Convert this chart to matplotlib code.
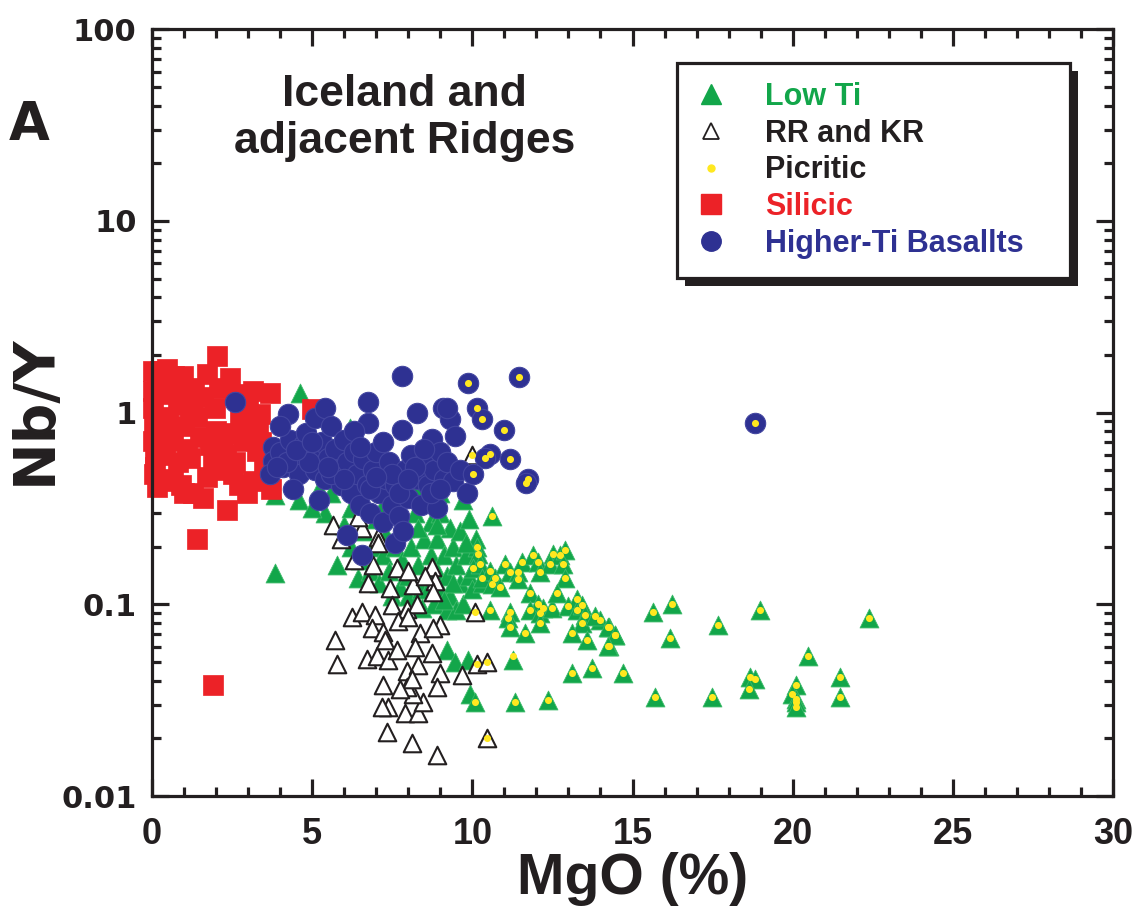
import matplotlib
matplotlib.use("Agg")
import matplotlib.pyplot as plt
from matplotlib.lines import Line2D
from matplotlib.patches import Rectangle
from matplotlib.ticker import LogLocator, MultipleLocator, FixedLocator, FixedFormatter

INK = "#231F20"
GREEN = "#12A64A"
RED = "#EC2227"
BLUE = "#2E3192"
YELLOW = "#FFE81F"

# Silicic rocks
silicic_mgo = [0.03, 0.47, 0.97, 1.72, 2.03, 2.44, 3.15, 3.68, 0.03, 1.19, 1.97, 3.37,
               2.75, 0.03, 0.66, 2.22, 2.84, 3.28, 1.19, 1.90, 0.05, 0.66, 1.72, 2.53,
               3.15, 0.16, 1.28, 1.60, 2.97, 2.34, 1.40, 1.90, 5.00, 0.30, 0.50, 0.80,
               1.00, 0.20, 0.40, 0.80, 1.10, 1.50, 1.40, 1.60, 2.00, 2.30, 2.60, 2.90,
               3.30, 3.50, 3.60, 3.40, 2.10, 2.60, 1.30, 0.15, 0.10, 0.60, 0.90, 1.00,
               2.00, 2.70, 3.70, 3.00, 0.70, 0.25, 0.02, 0.35, 1.80, 2.40, 0.05, 0.45,
               0.85, 1.25, 0.10, 0.55]
silicic_nby = [1.65, 1.69, 1.56, 1.60, 1.98, 1.52, 1.30, 1.26, 1.06, 1.02, 1.06, 0.99,
               0.91, 0.71, 0.71, 0.71, 0.71, 0.63, 0.58, 0.56, 0.48, 0.44, 0.46, 0.48,
               0.44, 0.41, 0.38, 0.36, 0.38, 0.31, 0.22, 0.038, 1.05, 1.25, 0.95, 1.10,
               0.85, 0.80, 0.60, 0.55, 0.65, 0.75, 0.95, 1.20, 0.80, 0.60, 0.55, 0.85,
               0.82, 0.55, 0.45, 0.70, 1.35, 1.25, 1.35, 1.40, 0.60, 0.45, 0.42, 0.38,
               0.50, 0.42, 0.40, 1.10, 1.55, 1.65, 1.30, 0.90, 0.68, 0.78, 0.88, 1.45,
               1.30, 1.10, 0.52, 0.75]

# Higher-Ti basalts
high_ti_mgo = [3.78, 3.78, 3.68, 4.00, 4.10, 4.25, 4.30, 4.50, 4.60, 4.70, 4.80, 5.00,
               5.10, 5.10, 5.30, 5.40, 5.40, 5.50, 5.60, 5.70, 5.80, 5.90, 6.00, 6.10,
               6.20, 6.30, 6.40, 6.50, 6.60, 6.70, 6.74, 6.74, 6.80, 6.90, 7.00, 7.10,
               7.20, 7.30, 7.40, 7.50, 7.59, 7.60, 7.70, 7.80, 7.80, 7.84, 7.90, 8.00,
               8.10, 8.27, 8.30, 8.40, 8.50, 8.60, 8.74, 8.80, 8.90, 9.00, 9.08, 9.10,
               9.20, 9.30, 9.40, 9.46, 9.83, 6.09, 6.56, 2.59, 4.00, 5.20, 4.40, 6.30,
               7.20, 4.20, 4.90, 5.60, 6.00, 6.80, 7.50, 8.20, 8.70, 9.60, 9.20,
               3.90, 4.50, 5.00, 5.50, 6.50, 7.00, 7.70, 8.00, 8.50, 9.00,
               9.87, 11.46, 10.15, 10.30, 10.99, 10.55, 10.40, 11.18, 10.02, 11.74,
               11.68, 18.83]
high_ti_nby = [0.66, 0.56, 0.48, 0.62, 0.52, 0.99, 0.72, 0.58, 0.48, 0.68, 0.78, 0.60,
               0.94, 0.50, 0.70, 1.06, 0.45, 0.58, 0.85, 0.65, 0.50, 0.42, 0.72, 0.55,
               0.38, 0.62, 0.48, 0.33, 0.57, 0.42, 0.88, 1.13, 0.30, 0.50, 0.62, 0.38,
               0.27, 0.45, 0.55, 0.33, 0.21, 0.42, 0.29, 0.81, 1.56, 0.24, 0.50, 0.36,
               0.60, 1.00, 0.45, 0.33, 0.55, 0.42, 0.73, 0.50, 0.32, 0.62, 1.06, 0.45,
               0.55, 0.93, 0.44, 0.76, 0.38, 0.23, 0.18, 1.13, 0.85, 0.35, 0.40, 0.80,
               0.70, 0.55, 0.55, 0.48, 0.45, 0.40, 0.48, 0.52, 0.38, 0.50, 1.06,
               0.52, 0.64, 0.70, 0.52, 0.66, 0.46, 0.38, 0.45, 0.65, 0.40,
               1.43, 1.54, 1.06, 0.93, 0.81, 0.61, 0.58, 0.57, 0.48, 0.45,
               0.43, 0.88]

# Low-Ti basalts
low_ti_mgo = [5.78, 6.00, 6.20, 6.43, 6.50, 6.60, 6.80, 6.90, 7.00, 7.10, 7.20, 7.30,
              7.40, 7.50, 7.60, 7.74, 7.80, 7.90, 8.00, 8.00, 8.10, 8.20, 8.30, 8.43,
              8.40, 8.50, 8.60, 8.70, 8.70, 8.80, 8.90, 8.90, 9.00, 9.00, 9.10, 9.20,
              9.20, 9.30, 9.30, 9.40, 9.50, 9.50, 9.60, 9.60, 9.70, 9.80, 9.90, 9.90,
              10.00, 10.10, 10.20, 10.30, 5.40, 5.60, 5.20, 6.20, 7.20, 8.20, 9.00,
              9.70, 4.62, 6.18, 3.84, 3.84, 4.60, 5.00, 9.21, 9.46, 9.87, 9.93,
              10.61, 10.08, 11.27, 11.33, 12.36, 13.11, 13.74, 14.70, 15.64, 16.23,
              16.17, 17.67, 18.98, 22.39, 20.48, 21.48, 21.48, 18.67, 18.83, 18.64,
              20.10, 19.98, 20.10, 20.10, 20.10, 15.70, 17.48, 14.27, 14.45, 14.27,
              13.99, 10.15, 10.18, 10.02, 10.24, 10.30, 10.55, 10.71, 10.61, 10.86,
              11.02, 11.18, 11.43, 11.43, 11.55, 11.90, 12.05, 12.11, 12.52, 12.43,
              12.74, 12.89, 12.83, 12.89, 11.80, 12.05, 12.21, 11.80, 12.11, 12.49,
              12.64, 12.99, 13.27, 13.27, 13.42, 13.52, 13.42, 13.83, 14.24, 14.45,
              14.24, 13.58, 13.11, 11.65, 12.11, 11.18, 11.11, 11.18, 10.55,
              8.60, 8.90, 9.40, 9.80, 8.30, 9.10]
low_ti_nby = [0.160, 0.260, 0.200, 0.137, 0.170, 0.240, 0.150, 0.200, 0.280, 0.130, 0.180, 0.230,
              0.150, 0.110, 0.200, 0.123, 0.170, 0.250, 0.140, 0.110, 0.200, 0.300, 0.160, 0.096,
              0.120, 0.220, 0.140, 0.180, 0.270, 0.100, 0.150, 0.220, 0.120, 0.300, 0.180, 0.093,
              0.140, 0.250, 0.110, 0.200, 0.093, 0.160, 0.130, 0.240, 0.100, 0.180, 0.140, 0.280,
              0.120, 0.220, 0.160, 0.130, 0.300, 0.380, 0.400, 0.320, 0.330, 0.400, 0.380,
              0.350, 1.270, 0.830, 0.145, 0.370, 0.350, 0.320, 0.058, 0.050, 0.051, 0.034,
              0.290, 0.031, 0.051, 0.031, 0.0317, 0.0438, 0.0464, 0.044, 0.091, 0.101,
              0.067, 0.078, 0.093, 0.085, 0.054, 0.042, 0.033, 0.042, 0.041, 0.036,
              0.038, 0.034, 0.032, 0.031, 0.029, 0.033, 0.033, 0.076, 0.069, 0.061,
              0.083, 0.198, 0.184, 0.154, 0.163, 0.138, 0.150, 0.138, 0.128, 0.123,
              0.163, 0.147, 0.147, 0.136, 0.166, 0.180, 0.166, 0.147, 0.184, 0.163,
              0.180, 0.191, 0.163, 0.138, 0.114, 0.101, 0.096, 0.093, 0.090, 0.096,
              0.114, 0.098, 0.107, 0.093, 0.099, 0.088, 0.080, 0.087, 0.076, 0.069,
              0.061, 0.065, 0.071, 0.071, 0.080, 0.091, 0.085, 0.076, 0.093,
              0.120, 0.260, 0.130, 0.210, 0.250, 0.105]

# Reykjanes and Kolbeinsey Ridge basalts
ridge_mgo = [5.65, 6.56, 6.43, 7.06, 7.06, 8.74, 8.84, 7.65, 6.74, 7.43, 8.15, 8.52,
             8.77, 6.24, 6.56, 6.96, 7.49, 7.96, 8.27, 8.99, 5.71, 5.78, 6.87, 7.21,
             6.71, 7.02, 7.37, 7.27, 7.65, 7.68, 7.99, 8.37, 8.21, 7.96, 8.30, 8.74,
             8.77, 8.99, 9.68, 7.21, 7.37, 7.18, 7.90, 8.30, 8.46, 8.15, 7.96, 8.90,
             7.34, 8.12, 8.90, 8.12, 7.74, 10.15, 10.46, 10.46, 10.08, 10.00, 6.30,
             6.90, 5.90, 8.00]
ridge_nby = [0.258, 0.249, 0.284, 0.224, 0.210, 0.156, 0.133, 0.154, 0.129, 0.121, 0.126, 0.141,
             0.116, 0.086, 0.091, 0.088, 0.099, 0.095, 0.101, 0.078, 0.065, 0.049, 0.075, 0.072,
             0.052, 0.054, 0.051, 0.065, 0.058, 0.082, 0.086, 0.071, 0.060, 0.045, 0.048, 0.056,
             0.075, 0.044, 0.043, 0.038, 0.029, 0.029, 0.027, 0.027, 0.031, 0.034, 0.037, 0.037,
             0.0216, 0.0188, 0.0163, 0.041, 0.036, 0.049, 0.050, 0.020, 0.091, 0.600, 0.170,
             0.160, 0.220, 0.150]

# Picritic samples (plotted over the other symbols)
picritic_mgo = [10.15, 10.18, 10.02, 10.24, 10.30, 10.55, 10.71, 10.61, 10.86, 11.02,
                11.18, 11.43, 11.43, 11.55, 11.90, 12.05, 12.11, 12.52, 12.43, 12.74,
                12.89, 12.83, 12.89, 11.80, 12.05, 12.21, 11.80, 12.11, 12.49, 12.64,
                12.99, 13.27, 13.27, 13.42, 13.52, 13.42, 13.83, 13.99, 14.24, 14.45,
                14.24, 13.58, 13.11, 11.65, 12.11, 11.18, 11.11, 11.18, 10.55, 11.27,
                10.61, 10.08, 11.33, 12.36, 13.11, 13.74, 14.70, 14.27, 14.45, 14.27,
                15.64, 16.23, 16.17, 17.67, 18.98, 22.39, 20.48, 21.48, 21.48, 18.67,
                18.83, 18.64, 20.10, 19.98, 20.10, 20.10, 20.10, 15.70, 17.48,
                9.87, 11.46, 10.15, 10.30, 10.99, 10.55, 10.40, 11.18, 10.02, 11.74,
                11.68, 18.83, 10.15, 10.46, 10.46, 10.08, 10.00]
picritic_nby = [0.198, 0.184, 0.154, 0.163, 0.138, 0.150, 0.138, 0.128, 0.123, 0.163,
                0.147, 0.147, 0.136, 0.166, 0.180, 0.166, 0.147, 0.184, 0.163, 0.180,
                0.191, 0.163, 0.138, 0.114, 0.101, 0.096, 0.093, 0.090, 0.096, 0.114,
                0.098, 0.107, 0.093, 0.099, 0.088, 0.080, 0.087, 0.083, 0.076, 0.069,
                0.061, 0.065, 0.071, 0.071, 0.080, 0.091, 0.085, 0.076, 0.093, 0.054,
                0.290, 0.031, 0.031, 0.0317, 0.0438, 0.0464, 0.044, 0.076, 0.069, 0.061,
                0.091, 0.101, 0.067, 0.078, 0.093, 0.085, 0.054, 0.042, 0.033, 0.042,
                0.041, 0.036, 0.038, 0.034, 0.032, 0.031, 0.029, 0.033, 0.033,
                1.43, 1.54, 1.06, 0.93, 0.81, 0.61, 0.58, 0.57, 0.48, 0.45,
                0.43, 0.88, 0.049, 0.050, 0.020, 0.091, 0.600]

x_ticks = [0, 5, 10, 15, 20, 25, 30]
y_ticks = [0.01, 0.1, 1, 10, 100]
y_tick_labels = ["0.01", "0.1", "1", "10", "100"]

plt.rcParams["font.family"] = ["Liberation Sans", "DejaVu Sans"]
plt.rcParams["axes.linewidth"] = 2.3

fig = plt.figure(figsize=(11.37, 9.15), dpi=100)
ax = fig.add_axes([0.1337, 0.130, 0.8452, 0.838])

ax.scatter(low_ti_mgo, low_ti_nby, s=185, marker="^", c=GREEN, edgecolors="#3DBA6A",
           linewidths=0.6, zorder=2)
ax.scatter(ridge_mgo, ridge_nby, s=160, marker="^", c="white", edgecolors=INK,
           linewidths=1.5, zorder=2.2)
ax.scatter(silicic_mgo, silicic_nby, s=200, marker="s", c=RED, edgecolors=RED,
           linewidths=0.5, zorder=2.4, clip_on=False)
ax.scatter(high_ti_mgo, high_ti_nby, s=215, marker="o", c=BLUE, edgecolors="#4346A0",
           linewidths=0.8, zorder=2.6)
ax.scatter(picritic_mgo, picritic_nby, s=26, marker="o", c=YELLOW, linewidths=0,
           zorder=3)

ax.set_yscale("log")
ax.set_xlim(0, 30)
ax.set_ylim(0.01, 100)

ax.xaxis.set_major_locator(FixedLocator(x_ticks))
ax.xaxis.set_minor_locator(MultipleLocator(1))
ax.yaxis.set_major_locator(FixedLocator(y_ticks))
ax.yaxis.set_major_formatter(FixedFormatter(y_tick_labels))
ax.yaxis.set_minor_locator(LogLocator(base=10, subs=range(2, 10)))
ax.yaxis.set_minor_formatter(FixedFormatter([]))

for spine in ax.spines.values():
    spine.set_color(INK)
ax.tick_params(which="both", direction="in", top=True, right=True, color=INK, width=2.3)
ax.tick_params(which="major", length=12)
ax.tick_params(which="minor", length=6.5)
ax.tick_params(axis="x", which="major", pad=15)
ax.tick_params(axis="y", which="major", pad=11)

for lab in ax.get_xticklabels():
    lab.set_fontweight("bold")
    lab.set_fontsize(26)
    lab.set_color(INK)
for lab in ax.get_yticklabels():
    lab.set_fontfamily("DejaVu Sans")
    lab.set_fontweight("bold")
    lab.set_fontsize(22)
    lab.set_color(INK)

ax.set_xlabel("MgO (%)", fontweight="bold", fontsize=41, color=INK, labelpad=0)
fig.text(0.031, 0.552, "Nb/Y", rotation=90, ha="center", va="center",
         fontfamily="DejaVu Sans", fontweight="bold", fontsize=41, color=INK)
fig.text(0.008, 0.863, "A", ha="left", va="center", fontfamily="DejaVu Sans",
         fontweight="bold", fontsize=38, color=INK)
ax.text(0.263, 0.884, "Iceland and\nadjacent Ridges", transform=ax.transAxes,
        ha="center", va="center", fontsize=32, fontweight="bold", color=INK,
        linespacing=1.2)

handles = [
    Line2D([], [], ls="none", marker="^", ms=14, mfc=GREEN, mec=GREEN),
    Line2D([], [], ls="none", marker="^", ms=12, mfc="white", mec=INK, mew=1.3),
    Line2D([], [], ls="none", marker="o", ms=5, mfc=YELLOW, mec=YELLOW),
    Line2D([], [], ls="none", marker="s", ms=14, mfc=RED, mec=RED),
    Line2D([], [], ls="none", marker="o", ms=14, mfc=BLUE, mec=BLUE),
]
labels = ["Low Ti", "RR and KR", "Picritic", "Silicic", "Higher-Ti Basallts"]
leg = ax.legend(handles, labels, loc="upper left", mode="expand",
                bbox_to_anchor=(0.546, 0.5, 0.409, 0.456), borderaxespad=0,
                prop={"weight": "bold", "size": 22}, labelcolor=[GREEN, INK, INK, RED, BLUE],
                frameon=True, fancybox=False, framealpha=1, edgecolor=INK,
                borderpad=0.62, handlelength=1.0, handletextpad=1.28, labelspacing=0.22,
                numpoints=1)
leg.get_frame().set_linewidth(2.3)
leg.set_zorder(10)

# drop shadow under the legend box
fig.canvas.draw()
bb = leg.get_window_extent().transformed(ax.transAxes.inverted())
dx, dy = 8 / 961, 8 / 767
ax.add_patch(Rectangle((bb.x0 + dx, bb.y0 - dy), bb.width, bb.height, transform=ax.transAxes,
                       facecolor=INK, edgecolor="none", zorder=9, clip_on=False))

fig.savefig("out.png", dpi=100)
